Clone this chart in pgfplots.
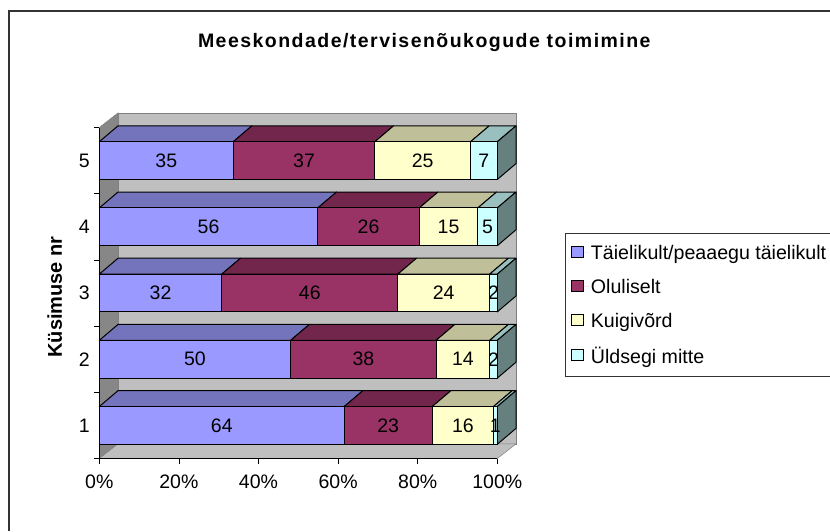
\documentclass[border=0pt]{standalone}
\usepackage{pgfplots}
\pgfplotsset{compat=1.18}
\usepackage{pgfplotstable}
\usepackage{fontspec}
\setmainfont{Liberation Sans}

\definecolor{serA}{HTML}{9999FF}
\definecolor{serB}{HTML}{993366}
\definecolor{serC}{HTML}{FFFFCC}
\definecolor{serD}{HTML}{CCFFFF}
\definecolor{topA}{HTML}{7474BC}
\definecolor{topB}{HTML}{72264C}
\definecolor{topC}{HTML}{BFBF99}
\definecolor{topD}{HTML}{99BFBF}
\definecolor{sideall}{HTML}{668080}

% shares of each row in percent, with the printed counts as labels
\pgfplotstableread{
y pct lab
1 61.54 64
2 48.08 50
3 30.77 32
4 54.90 56
5 33.65 35
}\seriesA
\pgfplotstableread{
y pct lab
1 22.12 23
2 36.54 38
3 44.23 46
4 25.49 26
5 35.58 37
}\seriesB
\pgfplotstableread{
y pct lab
1 15.38 16
2 13.46 14
3 23.08 24
4 14.71 15
5 24.04 25
}\seriesC
\pgfplotstableread{
y pct lab
1 0.96 1
2 1.92 2
3 1.92 2
4 4.90 5
5 6.73 7
}\seriesD

\pgfplotsset{
  chartbox/.style={
    at={(0,0)},anchor=south west,
    scale only axis,width=398pt,height=331pt,
    xmin=0,xmax=100,ymin=0.5,ymax=5.5,clip=false},
  face/.style={forget plot,fill=#1,draw=black,line width=1pt,line join=round},
}

\begin{document}
\begin{tikzpicture}[x=1pt,y=1pt]
\useasboundingbox (-99.3,-72.5) rectangle (730.7,458.5);
\draw[black!80,line width=1.8pt] (730.7,447.5) -- (-90.3,447.5) -- (-90.3,-72.5);
% walls, floor and the top and side faces of the bars
\begin{axis}[chartbox,hide axis]
\addplot[forget plot,fill=black!25,draw=black!50,line width=0.8pt] coordinates
  {(4.7,0.72) (104.7,0.72) (104.7,5.72) (4.7,5.72)} --cycle;
\addplot[forget plot,fill=black!47,draw=black!50,line width=0.5pt] coordinates
  {(0,0.5) (4.7,0.72) (4.7,5.72) (0,5.5)} --cycle;
\addplot[forget plot,fill=black!25,draw=black!50,line width=0.5pt] coordinates
  {(0,0.5) (100,0.5) (104.7,0.72) (4.7,0.72)} --cycle;
% row 1
\addplot[face=topA] coordinates {(0,1.285) (61.54,1.285) (66.24,1.525) (4.7,1.525)} --cycle;
\addplot[face=topB] coordinates {(61.54,1.285) (83.66,1.285) (88.36,1.525) (66.24,1.525)} --cycle;
\addplot[face=topC] coordinates {(83.66,1.285) (99.04,1.285) (103.74,1.525) (88.36,1.525)} --cycle;
\addplot[face=topD] coordinates {(99.04,1.285) (100,1.285) (104.7,1.525) (103.74,1.525)} --cycle;
\addplot[face=sideall] coordinates {(100,0.715) (100,1.285) (104.7,1.525) (104.7,0.955)} --cycle;
% row 2
\addplot[face=topA] coordinates {(0,2.285) (48.08,2.285) (52.78,2.525) (4.7,2.525)} --cycle;
\addplot[face=topB] coordinates {(48.08,2.285) (84.62,2.285) (89.32,2.525) (52.78,2.525)} --cycle;
\addplot[face=topC] coordinates {(84.62,2.285) (98.08,2.285) (102.78,2.525) (89.32,2.525)} --cycle;
\addplot[face=topD] coordinates {(98.08,2.285) (100,2.285) (104.7,2.525) (102.78,2.525)} --cycle;
\addplot[face=sideall] coordinates {(100,1.715) (100,2.285) (104.7,2.525) (104.7,1.955)} --cycle;
% row 3
\addplot[face=topA] coordinates {(0,3.285) (30.77,3.285) (35.47,3.525) (4.7,3.525)} --cycle;
\addplot[face=topB] coordinates {(30.77,3.285) (75,3.285) (79.7,3.525) (35.47,3.525)} --cycle;
\addplot[face=topC] coordinates {(75,3.285) (98.08,3.285) (102.78,3.525) (79.7,3.525)} --cycle;
\addplot[face=topD] coordinates {(98.08,3.285) (100,3.285) (104.7,3.525) (102.78,3.525)} --cycle;
\addplot[face=sideall] coordinates {(100,2.715) (100,3.285) (104.7,3.525) (104.7,2.955)} --cycle;
% row 4
\addplot[face=topA] coordinates {(0,4.285) (54.9,4.285) (59.6,4.525) (4.7,4.525)} --cycle;
\addplot[face=topB] coordinates {(54.9,4.285) (80.39,4.285) (85.09,4.525) (59.6,4.525)} --cycle;
\addplot[face=topC] coordinates {(80.39,4.285) (95.1,4.285) (99.8,4.525) (85.09,4.525)} --cycle;
\addplot[face=topD] coordinates {(95.1,4.285) (100,4.285) (104.7,4.525) (99.8,4.525)} --cycle;
\addplot[face=sideall] coordinates {(100,3.715) (100,4.285) (104.7,4.525) (104.7,3.955)} --cycle;
% row 5
\addplot[face=topA] coordinates {(0,5.285) (33.65,5.285) (38.35,5.525) (4.7,5.525)} --cycle;
\addplot[face=topB] coordinates {(33.65,5.285) (69.23,5.285) (73.93,5.525) (38.35,5.525)} --cycle;
\addplot[face=topC] coordinates {(69.23,5.285) (93.27,5.285) (97.97,5.525) (73.93,5.525)} --cycle;
\addplot[face=topD] coordinates {(93.27,5.285) (100,5.285) (104.7,5.525) (97.97,5.525)} --cycle;
\addplot[face=sideall] coordinates {(100,4.715) (100,5.285) (104.7,5.525) (104.7,4.955)} --cycle;
\end{axis}
% front faces, ticks, labels and legend
\begin{axis}[
  chartbox,
  xbar stacked,bar width=0.57,
  axis x line*=bottom,axis y line*=left,
  axis line style={-,black,line width=0.8pt},
  xtick={0,20,40,60,80,100},
  xticklabels={0\%,20\%,40\%,60\%,80\%,100\%},
  ytick={0.5,1.5,2.5,3.5,4.5,5.5},
  yticklabels={,,,,,},
  extra y ticks={1,2,3,4,5},
  extra y tick labels={1,2,3,4,5},
  extra y tick style={major tick length=0pt},
  major tick length=5pt,
  tick style={black,line width=0.7pt},
  tick align=outside,
  ticklabel style={font=\fontsize{19.5}{21}\selectfont},
  xticklabel style={yshift=-8pt},
  yticklabel style={xshift=-6pt},
  /pgf/number format/assume math mode=true,
  title={\fontsize{19.5}{21}\selectfont\bfseries\addfontfeature{LetterSpace=7.5}Meeskondade/tervisenõukogude toimimine},
  title style={at={(325pt,409.5pt)},anchor=center},
  ylabel={\bfseries Küsimuse nr},
  ylabel style={font=\fontsize{20}{22}\selectfont,at={(-44.5pt,161.5pt)},anchor=center},
  legend cell align=left,
  legend style={
    at={(465.7pt,225.5pt)},anchor=north west,
    draw=black!80,line width=0.8pt,
    font=\fontsize{19.6}{21}\selectfont,
    row sep=14.3pt,inner xsep=6pt,inner ysep=9.5pt,
  },
  legend image code/.code={
    \draw[#1,line width=1pt] (0pt,-4.5pt) rectangle (12pt,6pt);
    \path[draw=none] (0pt,0pt) -- (17pt,0pt);
  },
  nodes near coords,
  every node near coord/.append style={font=\fontsize{19.5}{21}\selectfont,black,anchor=center},
  point meta=explicit symbolic,
]
\addplot[fill=serA,draw=black,line width=1pt] table[x=pct,y=y,meta=lab] {\seriesA};
\addlegendentry{Täielikult/peaaegu täielikult}
\addplot[fill=serB,draw=black,line width=1pt] table[x=pct,y=y,meta=lab] {\seriesB};
\addlegendentry{Oluliselt}
\addplot[fill=serC,draw=black,line width=1pt] table[x=pct,y=y,meta=lab] {\seriesC};
\addlegendentry{Kuigivõrd}
\addplot[fill=serD,draw=black,line width=1pt] table[x=pct,y=y,meta=lab] {\seriesD};
\addlegendentry{Üldsegi mitte}
\end{axis}
\end{tikzpicture}
\end{document}
